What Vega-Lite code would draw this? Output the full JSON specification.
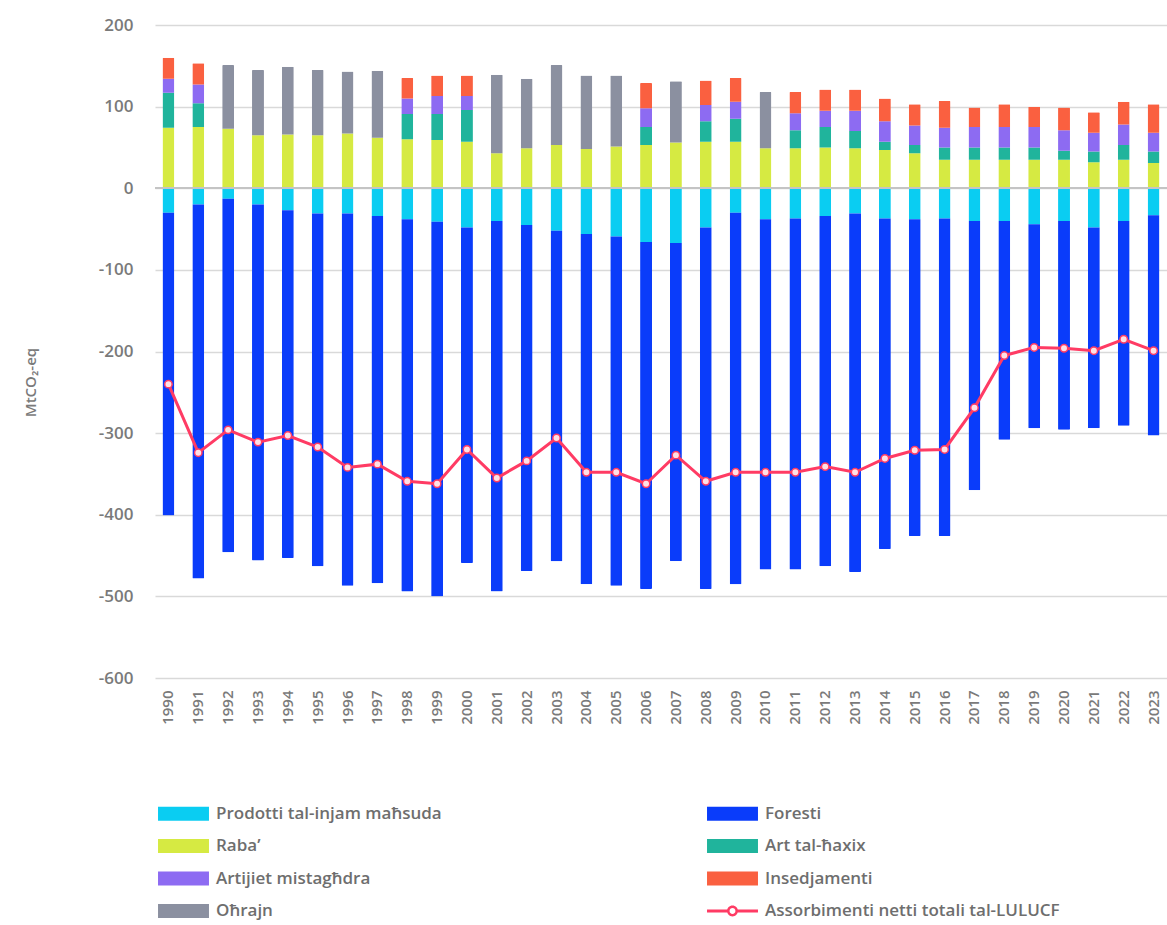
{
  "$schema": "https://vega.github.io/schema/vega-lite/v6.json",
  "width": 1012,
  "height": 653,
  "autosize": {"type": "none"},
  "padding": {"left": 155, "top": 25, "right": 0, "bottom": 247},
  "background": "white",
  "config": {"view": {"stroke": null}, "font": "Open Sans"},
  "datasets": {
    "cats": [
      {"cat": "Prodotti tal-injam maħsuda", "rank": 1},
      {"cat": "Foresti", "rank": 2},
      {"cat": "Raba’", "rank": 3},
      {"cat": "Art tal-ħaxix", "rank": 4},
      {"cat": "Artijiet mistagħdra", "rank": 5},
      {"cat": "Insedjamenti", "rank": 6},
      {"cat": "Oħrajn", "rank": 7}
    ],
    "d": [
      {"year": "1990", "Prodotti tal-injam maħsuda": -30, "Foresti": -371, "Raba’": 74, "Art tal-ħaxix": 43, "Artijiet mistagħdra": 17, "Insedjamenti": 26, "Oħrajn": 0, "net": -240},
      {"year": "1991", "Prodotti tal-injam maħsuda": -20, "Foresti": -458, "Raba’": 75, "Art tal-ħaxix": 29, "Artijiet mistagħdra": 23, "Insedjamenti": 26, "Oħrajn": 0, "net": -324},
      {"year": "1992", "Prodotti tal-injam maħsuda": -13, "Foresti": -433, "Raba’": 73, "Art tal-ħaxix": 0, "Artijiet mistagħdra": 0, "Insedjamenti": 0, "Oħrajn": 78, "net": -296},
      {"year": "1993", "Prodotti tal-injam maħsuda": -20, "Foresti": -436, "Raba’": 65, "Art tal-ħaxix": 0, "Artijiet mistagħdra": 0, "Insedjamenti": 0, "Oħrajn": 80, "net": -311},
      {"year": "1994", "Prodotti tal-injam maħsuda": -27, "Foresti": -426, "Raba’": 66, "Art tal-ħaxix": 0, "Artijiet mistagħdra": 0, "Insedjamenti": 0, "Oħrajn": 83, "net": -303},
      {"year": "1995", "Prodotti tal-injam maħsuda": -31, "Foresti": -432, "Raba’": 65, "Art tal-ħaxix": 0, "Artijiet mistagħdra": 0, "Insedjamenti": 0, "Oħrajn": 80, "net": -317},
      {"year": "1996", "Prodotti tal-injam maħsuda": -31, "Foresti": -456, "Raba’": 67, "Art tal-ħaxix": 0, "Artijiet mistagħdra": 0, "Insedjamenti": 0, "Oħrajn": 76, "net": -342},
      {"year": "1997", "Prodotti tal-injam maħsuda": -34, "Foresti": -450, "Raba’": 62, "Art tal-ħaxix": 0, "Artijiet mistagħdra": 0, "Insedjamenti": 0, "Oħrajn": 82, "net": -338},
      {"year": "1998", "Prodotti tal-injam maħsuda": -38, "Foresti": -456, "Raba’": 60, "Art tal-ħaxix": 31, "Artijiet mistagħdra": 19, "Insedjamenti": 25, "Oħrajn": 0, "net": -359},
      {"year": "1999", "Prodotti tal-injam maħsuda": -41, "Foresti": -459, "Raba’": 59, "Art tal-ħaxix": 32, "Artijiet mistagħdra": 22, "Insedjamenti": 25, "Oħrajn": 0, "net": -362},
      {"year": "2000", "Prodotti tal-injam maħsuda": -48, "Foresti": -411, "Raba’": 57, "Art tal-ħaxix": 39, "Artijiet mistagħdra": 17, "Insedjamenti": 25, "Oħrajn": 0, "net": -320},
      {"year": "2001", "Prodotti tal-injam maħsuda": -40, "Foresti": -454, "Raba’": 43, "Art tal-ħaxix": 0, "Artijiet mistagħdra": 0, "Insedjamenti": 0, "Oħrajn": 96, "net": -355},
      {"year": "2002", "Prodotti tal-injam maħsuda": -45, "Foresti": -424, "Raba’": 49, "Art tal-ħaxix": 0, "Artijiet mistagħdra": 0, "Insedjamenti": 0, "Oħrajn": 85, "net": -334},
      {"year": "2003", "Prodotti tal-injam maħsuda": -52, "Foresti": -405, "Raba’": 53, "Art tal-ħaxix": 0, "Artijiet mistagħdra": 0, "Insedjamenti": 0, "Oħrajn": 98, "net": -306},
      {"year": "2004", "Prodotti tal-injam maħsuda": -56, "Foresti": -429, "Raba’": 48, "Art tal-ħaxix": 0, "Artijiet mistagħdra": 0, "Insedjamenti": 0, "Oħrajn": 90, "net": -348},
      {"year": "2005", "Prodotti tal-injam maħsuda": -59, "Foresti": -428, "Raba’": 51, "Art tal-ħaxix": 0, "Artijiet mistagħdra": 0, "Insedjamenti": 0, "Oħrajn": 87, "net": -348},
      {"year": "2006", "Prodotti tal-injam maħsuda": -66, "Foresti": -425, "Raba’": 53, "Art tal-ħaxix": 22, "Artijiet mistagħdra": 23, "Insedjamenti": 31, "Oħrajn": 0, "net": -362},
      {"year": "2007", "Prodotti tal-injam maħsuda": -67, "Foresti": -390, "Raba’": 56, "Art tal-ħaxix": 0, "Artijiet mistagħdra": 0, "Insedjamenti": 0, "Oħrajn": 75, "net": -327},
      {"year": "2008", "Prodotti tal-injam maħsuda": -48, "Foresti": -443, "Raba’": 57, "Art tal-ħaxix": 25, "Artijiet mistagħdra": 20, "Insedjamenti": 30, "Oħrajn": 0, "net": -359},
      {"year": "2009", "Prodotti tal-injam maħsuda": -30, "Foresti": -455, "Raba’": 57, "Art tal-ħaxix": 28, "Artijiet mistagħdra": 21, "Insedjamenti": 29, "Oħrajn": 0, "net": -348},
      {"year": "2010", "Prodotti tal-injam maħsuda": -38, "Foresti": -429, "Raba’": 49, "Art tal-ħaxix": 0, "Artijiet mistagħdra": 0, "Insedjamenti": 0, "Oħrajn": 69, "net": -348},
      {"year": "2011", "Prodotti tal-injam maħsuda": -37, "Foresti": -430, "Raba’": 49, "Art tal-ħaxix": 22, "Artijiet mistagħdra": 21, "Insedjamenti": 26, "Oħrajn": 0, "net": -348},
      {"year": "2012", "Prodotti tal-injam maħsuda": -34, "Foresti": -429, "Raba’": 50, "Art tal-ħaxix": 25, "Artijiet mistagħdra": 20, "Insedjamenti": 26, "Oħrajn": 0, "net": -341},
      {"year": "2013", "Prodotti tal-injam maħsuda": -31, "Foresti": -439, "Raba’": 49, "Art tal-ħaxix": 21, "Artijiet mistagħdra": 25, "Insedjamenti": 26, "Oħrajn": 0, "net": -348},
      {"year": "2014", "Prodotti tal-injam maħsuda": -37, "Foresti": -405, "Raba’": 47, "Art tal-ħaxix": 10, "Artijiet mistagħdra": 25, "Insedjamenti": 28, "Oħrajn": 0, "net": -331},
      {"year": "2015", "Prodotti tal-injam maħsuda": -38, "Foresti": -388, "Raba’": 43, "Art tal-ħaxix": 10, "Artijiet mistagħdra": 24, "Insedjamenti": 26, "Oħrajn": 0, "net": -321},
      {"year": "2016", "Prodotti tal-injam maħsuda": -37, "Foresti": -389, "Raba’": 35, "Art tal-ħaxix": 15, "Artijiet mistagħdra": 24, "Insedjamenti": 33, "Oħrajn": 0, "net": -320},
      {"year": "2017", "Prodotti tal-injam maħsuda": -40, "Foresti": -330, "Raba’": 35, "Art tal-ħaxix": 15, "Artijiet mistagħdra": 25, "Insedjamenti": 24, "Oħrajn": 0, "net": -269},
      {"year": "2018", "Prodotti tal-injam maħsuda": -40, "Foresti": -268, "Raba’": 35, "Art tal-ħaxix": 15, "Artijiet mistagħdra": 25, "Insedjamenti": 28, "Oħrajn": 0, "net": -205},
      {"year": "2019", "Prodotti tal-injam maħsuda": -44, "Foresti": -250, "Raba’": 35, "Art tal-ħaxix": 15, "Artijiet mistagħdra": 25, "Insedjamenti": 25, "Oħrajn": 0, "net": -195},
      {"year": "2020", "Prodotti tal-injam maħsuda": -40, "Foresti": -256, "Raba’": 35, "Art tal-ħaxix": 11, "Artijiet mistagħdra": 25, "Insedjamenti": 28, "Oħrajn": 0, "net": -196},
      {"year": "2021", "Prodotti tal-injam maħsuda": -48, "Foresti": -246, "Raba’": 32, "Art tal-ħaxix": 13, "Artijiet mistagħdra": 23, "Insedjamenti": 25, "Oħrajn": 0, "net": -199},
      {"year": "2022", "Prodotti tal-injam maħsuda": -40, "Foresti": -251, "Raba’": 35, "Art tal-ħaxix": 18, "Artijiet mistagħdra": 25, "Insedjamenti": 28, "Oħrajn": 0, "net": -185},
      {"year": "2023", "Prodotti tal-injam maħsuda": -33, "Foresti": -270, "Raba’": 31, "Art tal-ħaxix": 14, "Artijiet mistagħdra": 23, "Insedjamenti": 35, "Oħrajn": 0, "net": -199}
    ]
  },
  "data": {"name": "d"},
  "layer": [
    {
      "transform": [
        {"fold": ["Prodotti tal-injam maħsuda", "Foresti", "Raba’", "Art tal-ħaxix", "Artijiet mistagħdra", "Insedjamenti", "Oħrajn"], "as": ["cat", "value"]},
        {"lookup": "cat", "from": {"data": {"name": "cats"}, "key": "cat", "fields": ["rank"]}}
      ],
      "mark": {"type": "bar", "cornerRadius": 1},
      "encoding": {
        "x": {
          "field": "year", "type": "ordinal",
          "scale": {"paddingInner": 0.6, "paddingOuter": 0.25},
          "axis": {"title": null, "labelAngle": -90, "labelAlign": "right", "labelBaseline": "middle", "labelPadding": 12, "ticks": false, "domain": false, "grid": false, "labelFontSize": 15, "labelFontWeight": 600, "labelColor": "#7a7a7a"}
        },
        "y": {
          "field": "value", "type": "quantitative", "stack": "zero",
          "scale": {"domain": [-600, 200], "nice": false},
          "axis": {
            "values": [-600, -500, -400, -300, -200, -100, 0, 100, 200],
            "labelExpr": "'' + datum.value",
            "grid": true, "gridColor": "#d9d9d9", "gridWidth": 1.5,
            "domain": false, "ticks": false,
            "labelPadding": 22, "labelFontSize": 17, "labelFontWeight": 600, "labelColor": "#7a7a7a",
            "title": "MtCO₂-eq", "titleX": -125, "titleY": 357, "titleAngle": -90, "titleAlign": "center", "titleBaseline": "middle",
            "titleFontSize": 15, "titleFontWeight": 600, "titleColor": "#7a7a7a"
          }
        },
        "order": {"field": "rank", "type": "quantitative", "sort": "ascending"},
        "color": {
          "field": "cat", "type": "nominal",
          "sort": ["Prodotti tal-injam maħsuda", "Foresti", "Raba’", "Art tal-ħaxix", "Artijiet mistagħdra", "Insedjamenti", "Oħrajn", "Assorbimenti netti totali tal-LULUCF"],
          "scale": {
            "domain": ["Prodotti tal-injam maħsuda", "Foresti", "Raba’", "Art tal-ħaxix", "Artijiet mistagħdra", "Insedjamenti", "Oħrajn", "Assorbimenti netti totali tal-LULUCF"],
            "range": ["#0acdf2", "#0a3cfa", "#d6ea42", "#20b49c", "#8d6bf2", "#fa6040", "#8b90a0", "#ff3b64"]
          },
          "legend": {
            "orient": "none", "legendX": 20, "legendY": 780, "direction": "horizontal", "columns": 2,
            "title": null, "padding": 0,
            "symbolSize": 196, "symbolType": "M-3.64,-1L3.64,-1L3.64,1L-3.64,1Z", "symbolStrokeWidth": 0,
            "labelOffset": 24, "labelFontSize": 17, "labelFontWeight": 600, "labelColor": "#6e6e6e", "labelLimit": 400,
            "rowPadding": 14.5, "columnPadding": 265,
            "encode": {
              "symbols": {
                "update": {
                  "shape": {"signal": "datum.value === 'Assorbimenti netti totali tal-LULUCF' ? 'M-3.64,-0.2L-0.72,-0.2L-0.72,0.2L-3.64,0.2Z M0.72,-0.2L3.64,-0.2L3.64,0.2L0.72,0.2Z M0.78,0A0.78,0.78 0 1,1 -0.78,0A0.78,0.78 0 1,1 0.78,0Z M0.42,0A0.42,0.42 0 1,0 -0.42,0A0.42,0.42 0 1,0 0.42,0Z' : 'M-3.64,-1L3.64,-1L3.64,1L-3.64,1Z'"},
                  "strokeWidth": {"value": 0},
                  "opacity": {"value": 1},
                  "fillOpacity": {"value": 1}
                }
              }
            }
          }
        }
      }
    },
    {
      "mark": {"type": "rule", "color": "#c4c4c4", "strokeWidth": 1.5},
      "encoding": {"y": {"datum": 0}}
    },
    {
      "mark": {"type": "line", "strokeWidth": 3},
      "encoding": {
        "x": {"field": "year", "type": "ordinal"},
        "y": {"field": "net", "type": "quantitative"},
        "color": {"datum": "Assorbimenti netti totali tal-LULUCF", "type": "nominal"}
      }
    },
    {
      "mark": {"type": "point", "filled": true, "fill": "#ffe0e6", "stroke": "#ff3b64", "strokeWidth": 1.5, "size": 55, "opacity": 1},
      "encoding": {
        "x": {"field": "year", "type": "ordinal"},
        "y": {"field": "net", "type": "quantitative"}
      }
    }
  ]
}
